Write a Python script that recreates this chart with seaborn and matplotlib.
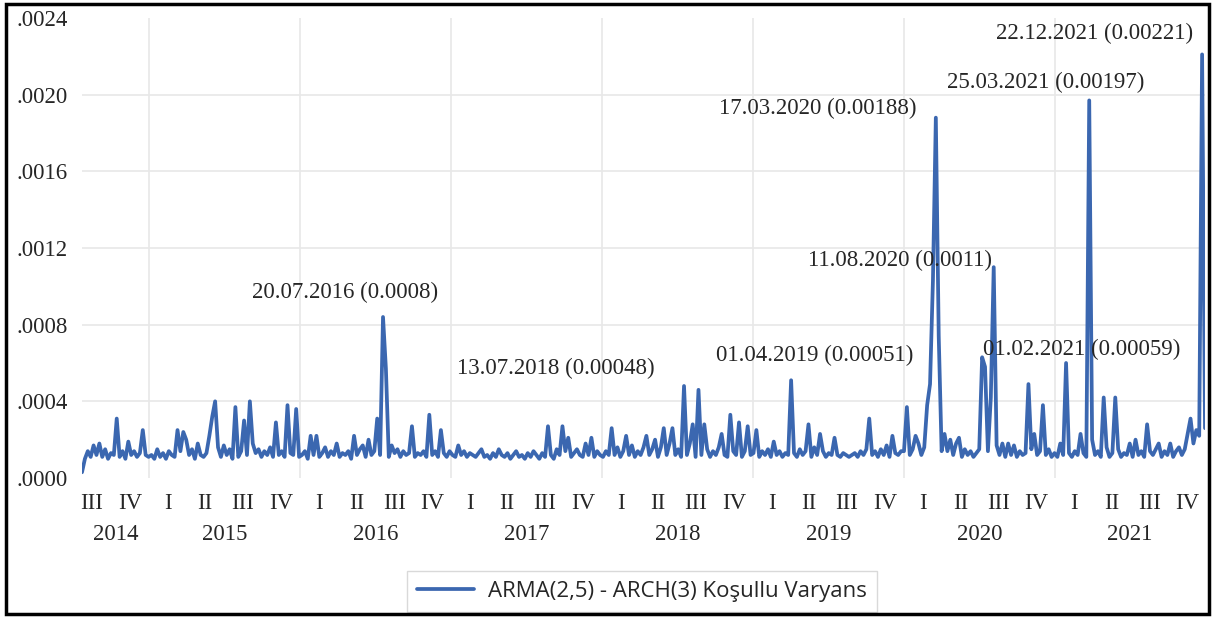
import numpy as np
import pandas as pd
import matplotlib.pyplot as plt
from matplotlib.ticker import FuncFormatter, NullFormatter
from matplotlib.patches import Rectangle
import seaborn as sns

# weekly conditional variance (units of 1e-5), one value per Wednesday from 2014-07-23
var_2014 = [3, 10, 14, 11, 17, 12, 18, 11, 15, 10, 13, 12, 31, 11, 14, 10, 19, 12, 14, 11,
            13, 25, 12, 11]
var_2015 = [12, 10, 15, 11, 13, 10, 14, 12, 11, 25, 14, 24, 20, 12, 15, 10, 18, 12, 11, 13,
            22, 32, 40, 16, 11, 17, 12, 15, 10, 37, 11, 14, 30, 12, 40, 18, 13, 15, 11, 14,
            12, 16, 11, 29, 12, 14, 11, 38, 13, 12, 36, 11]
var_2016 = [12, 14, 10, 22, 12, 22, 11, 13, 16, 11, 14, 12, 18, 11, 13, 12, 14, 10, 22, 12,
            15, 17, 11, 20, 12, 14, 31, 12, 84, 57, 11, 17, 13, 15, 11, 14, 12, 13, 27, 11,
            13, 12, 14, 11, 33, 12, 14, 11, 25, 13, 11, 14]
var_2017 = [12, 11, 17, 12, 14, 11, 13, 12, 11, 13, 15, 11, 12, 10, 13, 11, 15, 12, 11, 13,
            10, 12, 14, 11, 12, 10, 13, 11, 14, 12, 10, 13, 11, 27, 12, 10, 15, 12, 27, 14,
            21, 11, 13, 15, 12, 11, 18, 12, 21, 11, 14, 12]
var_2018 = [11, 14, 12, 26, 12, 16, 11, 14, 22, 12, 17, 11, 14, 12, 16, 22, 12, 15, 20, 11,
            16, 26, 12, 18, 26, 12, 15, 11, 48, 12, 18, 28, 11, 46, 12, 28, 15, 11, 14, 12,
            16, 23, 12, 11, 33, 14, 12, 29, 11, 14, 27, 12]
var_2019 = [13, 25, 11, 14, 12, 15, 11, 19, 12, 14, 11, 13, 12, 51, 13, 11, 15, 12, 14, 28,
            11, 16, 12, 23, 14, 11, 13, 12, 21, 12, 11, 13, 12, 11, 12, 13, 11, 14, 12, 15,
            31, 12, 14, 11, 15, 12, 17, 11, 22, 13, 12, 14]
var_2020 = [14, 37, 12, 15, 22, 18, 12, 16, 38, 49, 103, 188, 74, 14, 23, 14, 20, 12, 18, 21,
            11, 15, 12, 14, 11, 13, 15, 63, 58, 14, 42, 110, 17, 12, 18, 11, 18, 12, 17, 11,
            14, 12, 13, 49, 15, 23, 12, 14, 38, 12, 15, 11, 13]
var_2021 = [11, 18, 12, 60, 13, 11, 14, 12, 23, 13, 11, 197, 20, 12, 14, 11, 42, 16, 11, 13,
            42, 15, 11, 13, 12, 18, 11, 20, 12, 14, 11, 28, 14, 12, 15, 18, 11, 14, 12, 18,
            11, 14, 16, 12, 15, 23, 31, 18, 25, 22, 221, 26]

START = "2014-07-23"
SERIES_LABEL = "ARMA(2,5) - ARCH(3) Koşullu Varyans"
QUARTERS = ["I", "II", "III", "IV"]

ann_text = ["20.07.2016 (0.0008)", "13.07.2018 (0.00048)", "01.04.2019 (0.00051)",
            "17.03.2020 (0.00188)", "11.08.2020 (0.0011)", "01.02.2021 (0.00059)",
            "25.03.2021 (0.00197)", "22.12.2021 (0.00221)"]
ann_date = ["2016-07-20", "2018-07-13", "2019-04-01", "2020-03-17",
            "2020-08-11", "2021-02-01", "2021-03-25", "2021-12-22"]
ann_value = [0.0008, 0.00048, 0.00051, 0.00188, 0.0011, 0.00059, 0.00197, 0.00221]
ann_offset = [(-38, 32), (-126, 18), (24, 25), (-118, 9),
              (-96, 7), (14, 15), (-44, 18), (-108, 21)]

LINE_COLOR = "#3B67B0"
GRID_COLOR = "#E8E8E8"
FS = 16.5

sns.set_style("white")
plt.rcParams["font.family"] = ["Liberation Serif", "DejaVu Serif"]

weekly = var_2014 + var_2015 + var_2016 + var_2017 + var_2018 + var_2019 + var_2020 + var_2021
df = pd.DataFrame({
    "date": pd.date_range(START, periods=len(weekly), freq="7D"),
    "cond_var": np.array(weekly) * 1e-5,
})

fig = plt.figure(figsize=(12.13, 6.17), dpi=100)
ax = fig.add_axes([82 / 1213, 1 - 478 / 617, (1205 - 82) / 1213, (478 - 18) / 617])

sns.lineplot(data=df, x="date", y="cond_var", ax=ax, color=LINE_COLOR,
             linewidth=2.7, label=SERIES_LABEL)

x0, x1 = df["date"].iloc[0], df["date"].iloc[-1]
ax.set_xlim(x0, x1)
ax.set_ylim(0, 0.0024)
ax.set_xlabel("")
ax.set_ylabel("")
for sp in ax.spines.values():
    sp.set_visible(False)

# y axis
ax.set_yticks(np.arange(0, 0.00241, 0.0004))
ax.yaxis.set_major_formatter(FuncFormatter(lambda v, p: f"{v:.4f}"[1:]))
ax.tick_params(axis="y", length=0, pad=10, labelsize=FS)
ax.grid(axis="y", color=GRID_COLOR, linewidth=1.2)
ygl = ax.get_ygridlines()
ygl[0].set_visible(False)
ygl[-1].set_visible(False)

# x axis: year boundaries as grid, quarters as labels
years = list(range(x0.year, x1.year + 1))
year_starts = [pd.Timestamp(y, 1, 1) for y in years if pd.Timestamp(y, 1, 1) > x0]
ax.set_xticks(year_starts)
ax.xaxis.set_major_formatter(NullFormatter())
ax.grid(axis="x", which="major", color=GRID_COLOR, linewidth=1.2)

q_pos, q_lab = [], []
for y in years:
    for q in range(4):
        a = pd.Timestamp(y, 3 * q + 1, 1)
        b = pd.Timestamp(y + 1, 1, 1) if q == 3 else pd.Timestamp(y, 3 * q + 4, 1)
        mid = a + (b - a) / 2
        if x0 <= mid <= x1:
            q_pos.append(mid)
            q_lab.append(QUARTERS[q])
ax.set_xticks(q_pos, minor=True)
ax.set_xticklabels(q_lab, minor=True)
ax.tick_params(axis="x", which="both", length=0)
ax.tick_params(axis="x", which="minor", pad=11, labelsize=FS)

for y in years:
    a = max(pd.Timestamp(y, 1, 1), x0)
    b = min(pd.Timestamp(y + 1, 1, 1), x1)
    ax.text(a + (b - a) / 2, -0.122, str(y), transform=ax.get_xaxis_transform(),
            ha="center", va="center", fontsize=FS)

# peak annotations
for txt, d, v, off in zip(ann_text, ann_date, ann_value, ann_offset):
    ax.annotate(txt, xy=(pd.Timestamp(d), v), xytext=off, textcoords="offset pixels",
                ha="center", va="center", fontsize=FS)

leg = ax.legend(loc="center", bbox_to_anchor=(0.529, 0.041), bbox_transform=fig.transFigure,
                frameon=True, fancybox=False, edgecolor="#D9D9D9", framealpha=1,
                handlelength=2.6, handletextpad=0.6, borderpad=0.45, borderaxespad=0,
                prop={"family": ["Open Sans", "DejaVu Sans"], "size": 16})
leg.get_frame().set_linewidth(1.0)

fig.patches.append(Rectangle((0.005, 0.005), 0.992, 0.9885, transform=fig.transFigure,
                             fill=False, edgecolor="black", linewidth=2.5))

fig.savefig("out.png", dpi=100)
plt.close(fig)
